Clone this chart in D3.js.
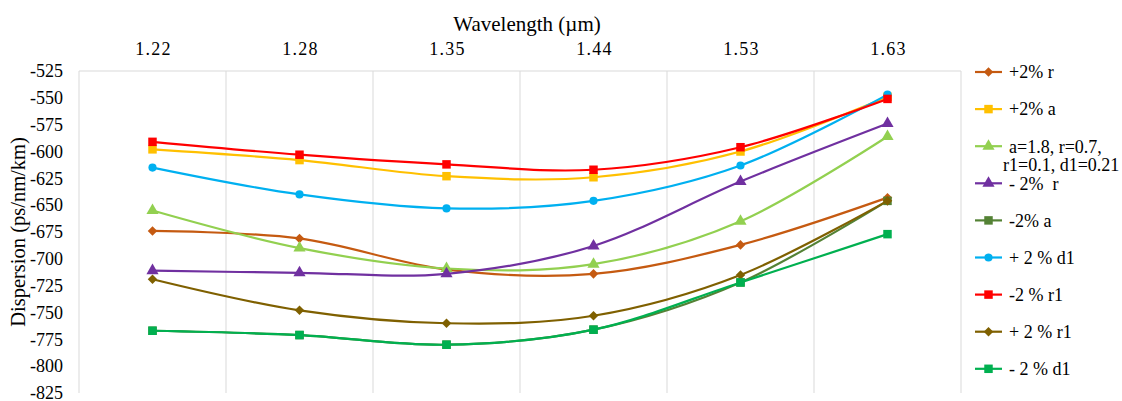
<!DOCTYPE html>
<html>
<head>
<meta charset="utf-8">
<script src="https://cdn.jsdelivr.net/npm/d3@7"></script>
<style>
  html, body { margin: 0; padding: 0; background: #fff; }
</style>
</head>
<body>
<div id="chart"></div>
<script>
// wavelengths (category axis, shown on top)
const wavelengths = ['1.22', '1.28', '1.35', '1.44', '1.53', '1.63'];
const yTicks = [-525, -550, -575, -600, -625, -650, -675, -700, -725, -750, -775, -800, -825];

// dispersion values (ps/nm/km) per series
const plus2r = [-674, -681, -710, -714, -687, -643];
const plus2a = [-598, -608, -623, -624, -600, -549];
const baseLine = [-655, -690, -709, -705, -665, -586];
const minus2r = [-711, -713, -714, -688, -628, -574];
const minus2a = [-767, -771, -780, -766, -722, -646];
const plus2d1 = [-615, -640, -653, -646, -613, -547];
const minus2r1 = [-591, -603, -612, -617, -596, -551];
const plus2r1 = [-719, -748, -760, -753, -715, -646];
const minus2d1 = [-767, -771, -780, -766, -722, -677];

const seriesNames = ['+2% r', '+2% a', 'a=1.8, r=0.7,|r1=0.1, d1=0.21', '- 2%  r', '-2% a',
  '+ 2 % d1', '-2 % r1', '+ 2 % r1', '- 2 % d1'];
const seriesValues = [plus2r, plus2a, baseLine, minus2r, minus2a, plus2d1, minus2r1, plus2r1, minus2d1];
const seriesColors = ['#C55A11', '#FFC000', '#92D050', '#7030A0', '#548235', '#00B0F0', '#FF0000', '#7F6000', '#00B050'];
const seriesMarkers = ['diamond', 'square', 'triangle', 'triangle', 'square', 'circle', 'square', 'diamond', 'square'];

const width = 1122;
const height = 401;
const plot = { left: 79, right: 961, top: 71, bottom: 393 };
const serif = "'Liberation Serif', serif";

const svg = d3.select('#chart').append('svg')
  .attr('width', width)
  .attr('height', height);

const x = d3.scaleBand().domain(wavelengths).range([plot.left, plot.right]);
const y = d3.scaleLinear().domain([-825, -525]).range([plot.bottom, plot.top]);
const cx = d => x(d) + x.bandwidth() / 2;

// vertical gridlines at category boundaries
const edges = wavelengths.map(w => x(w)).concat([plot.right]);
svg.append('g').selectAll('line')
  .data(edges)
  .enter()
  .append('line')
  .attr('x1', d => d).attr('x2', d => d)
  .attr('y1', plot.top).attr('y2', plot.bottom)
  .attr('stroke', '#d9d9d9')
  .attr('stroke-width', 1);

// category axis line along the top
svg.append('line')
  .attr('x1', plot.left).attr('x2', plot.right)
  .attr('y1', plot.top).attr('y2', plot.top)
  .attr('stroke', '#d9d9d9');

// x tick labels (top)
svg.append('g').selectAll('text')
  .data(wavelengths)
  .enter()
  .append('text')
  .attr('x', d => cx(d) + 1)
  .attr('y', 55)
  .attr('text-anchor', 'middle')
  .style('font-family', serif)
  .style('font-size', '18px')
  .style('letter-spacing', '1.3px')
  .text(d => d);

svg.append('text')
  .attr('x', 527)
  .attr('y', 31)
  .attr('text-anchor', 'middle')
  .style('font-family', serif)
  .style('font-size', '21px')
  .text('Wavelength (µm)');

// y tick labels
svg.append('g').selectAll('text')
  .data(yTicks)
  .enter()
  .append('text')
  .attr('x', 63)
  .attr('y', d => y(d))
  .attr('dy', '0.35em')
  .attr('text-anchor', 'end')
  .style('font-family', serif)
  .style('font-size', '18px')
  .text(d => d);

svg.append('text')
  .attr('transform', 'translate(18, 232) rotate(-90)')
  .attr('text-anchor', 'middle')
  .attr('dy', '0.35em')
  .style('font-family', serif)
  .style('font-size', '20.5px')
  .text('Dispersion (ps/nm/km)');

// marker symbol
function symbolFor(kind) {
  if (kind === 'diamond') return d3.symbol().type(d3.symbolDiamond2 || d3.symbolDiamond).size(58);
  if (kind === 'square') return d3.symbol().type(d3.symbolSquare).size(72);
  if (kind === 'triangle') return d3.symbol().type(d3.symbolTriangle).size(64);
  return d3.symbol().type(d3.symbolCircle).size(52);
}

const line = d3.line()
  .x((d, i) => cx(wavelengths[i]))
  .y(d => y(d))
  .curve(d3.curveCatmullRom.alpha(0));

// draw series: line then markers
seriesValues.forEach((vals, s) => {
  const g = svg.append('g').attr('class', 'series');
  g.append('path')
    .datum(vals)
    .attr('d', line)
    .attr('fill', 'none')
    .attr('stroke', seriesColors[s])
    .attr('stroke-width', 2.2);
  g.selectAll('path.marker')
    .data(vals)
    .enter()
    .append('path')
    .attr('class', 'marker')
    .attr('transform', (d, i) => `translate(${cx(wavelengths[i])}, ${y(d)})`)
    .attr('d', symbolFor(seriesMarkers[s])())
    .attr('fill', seriesColors[s]);
});

// legend
const legendY0 = 72;
const legendStep = 37.1;
const legend = svg.append('g').attr('class', 'legend');
seriesNames.forEach((name, s) => {
  const ly = legendY0 + s * legendStep;
  legend.append('line')
    .attr('x1', 975).attr('x2', 1002)
    .attr('y1', ly).attr('y2', ly)
    .attr('stroke', seriesColors[s])
    .attr('stroke-width', 2.2);
  legend.append('path')
    .attr('transform', `translate(988.5, ${ly})`)
    .attr('d', symbolFor(seriesMarkers[s])())
    .attr('fill', seriesColors[s]);
  const parts = name.split('|');
  const t = legend.append('text')
    .attr('x', 1009)
    .attr('y', ly)
    .style('font-family', serif)
    .style('font-size', '18px')
    .style('white-space', 'pre');
  parts.forEach((p, k) => {
    t.append('tspan')
      .attr('x', k === 0 ? 1009 : 1003)
      .attr('dy', k === 0 ? '0.35em' : '1.05em')
      .text(p);
  });
});
</script>
</body>
</html>
